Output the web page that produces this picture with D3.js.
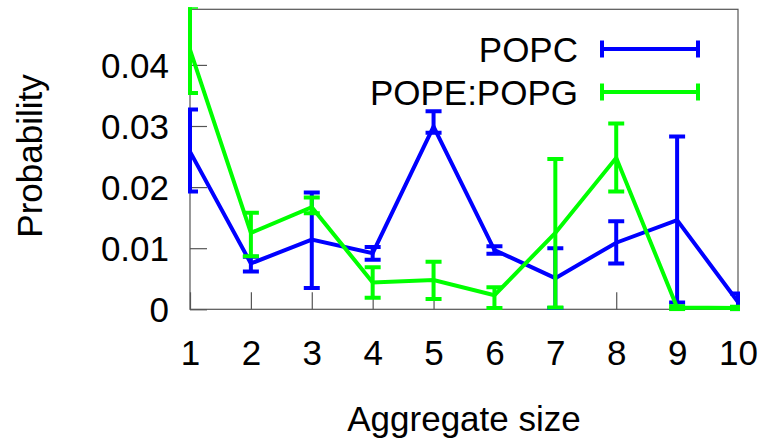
<!DOCTYPE html>
<html>
<head>
<meta charset="utf-8">
<script src="https://cdn.jsdelivr.net/npm/d3@7"></script>
<style>
  body { margin: 0; background: #fff; }
  text { font-family: "Liberation Sans", Arial, sans-serif; fill: #000; }
</style>
</head>
<body>
<div id="chart"></div>
<script>
// aggregate sizes on the x axis
const sizes = [1, 2, 3, 4, 5, 6, 7, 8, 9, 10];

// POPC: mean probability and error range
const popc   = [0.0258, 0.0075, 0.0114, 0.0092, 0.0299, 0.0097, 0.0051, 0.0109, 0.0146, 0.0012];
const popcLo = [0.0193, 0.0062, 0.0035, 0.0081, 0.0289, 0.0091, 0.0002, 0.0075, 0.0011, 0.0000];
const popcHi = [0.0327, 0.0086, 0.0191, 0.0102, 0.0324, 0.0103, 0.0100, 0.0144, 0.0283, 0.0026];

// POPE:POPG
const popg   = [0.0425, 0.0125, 0.0167, 0.0044, 0.0048, 0.0023, 0.0125, 0.0248, 0.0003, 0.0002];
const popgLo = [0.0354, 0.0087, 0.0157, 0.0019, 0.0017, 0.0002, 0.0003, 0.0193, 0.0000, 0.0000];
const popgHi = [0.0495, 0.0158, 0.0183, 0.0069, 0.0078, 0.0036, 0.0246, 0.0304, 0.0005, 0.0004];

const yTicks = [0, 0.01, 0.02, 0.03, 0.04];
const seriesNames = ["POPC", "POPE:POPG"];
const seriesColors = ["#0000ff", "#00ff00"];

let width = 768, height = 447;
let margin = {top: 9.3, right: 30, bottom: 137.7, left: 190};
let pw = width - margin.left - margin.right,
    ph = height - margin.top - margin.bottom;

let svg = d3.select("#chart").append("svg")
    .attr("width", width).attr("height", height);

let x = d3.scaleLinear().domain([1, 10]).range([margin.left, margin.left + pw]);
let y = d3.scaleLinear().domain([0, 0.0491]).range([margin.top + ph, margin.top]);

let axis_color = "#555";
let fsize = "35px";

// frame
svg.append("rect")
    .attr("x", margin.left).attr("y", margin.top)
    .attr("width", pw).attr("height", ph)
    .attr("fill", "none").attr("stroke", axis_color).attr("stroke-width", 1.2);

// y axis ticks + labels
let yAxis = d3.axisLeft(y).tickValues(yTicks).tickSize(-17).tickPadding(21)
    .tickFormat(d => d === 0 ? "0" : d3.format(".2f")(d));
let gy = svg.append("g").attr("transform", `translate(${margin.left},0)`).call(yAxis);
gy.select(".domain").remove();
gy.selectAll("line").attr("stroke", axis_color).attr("stroke-width", 1.2);
gy.selectAll("text").style("font-size", fsize).attr("dy", "0.36em");

// x axis ticks + labels
let xAxis = d3.axisBottom(x).tickValues(sizes).tickSize(-17).tickPadding(31);
let gx = svg.append("g").attr("transform", `translate(0,${margin.top + ph})`).call(xAxis);
gx.select(".domain").remove();
gx.selectAll("line").attr("stroke", axis_color).attr("stroke-width", 1.2);
gx.selectAll("text").style("font-size", fsize);

// axis titles
svg.append("text")
    .attr("x", 464).attr("y", 431)
    .attr("text-anchor", "middle").style("font-size", fsize)
    .text("Aggregate size");
svg.append("text")
    .attr("transform", "translate(42,156) rotate(-90)")
    .attr("text-anchor", "middle").style("font-size", fsize)
    .text("Probability");

// clip the series to the plot area
svg.append("clipPath").attr("id", "plotclip")
  .append("rect")
    .attr("x", margin.left - 2).attr("y", margin.top - 2)
    .attr("width", pw + 4).attr("height", ph + 4);

let plot = svg.append("g").attr("clip-path", "url(#plotclip)");

let series = [
    {vals: popc, lo: popcLo, hi: popcHi},
    {vals: popg, lo: popgLo, hi: popgHi}
];

let capW = 8;
let line = d3.line().x((d, i) => x(sizes[i])).y(d => y(d));

series.forEach((s, k) => {
    let col = seriesColors[k];
    let g = plot.append("g");
    // error bars
    let eb = g.selectAll(".eb").data(sizes).enter().append("g");
    eb.append("line")
        .attr("x1", d => x(d)).attr("x2", d => x(d))
        .attr("y1", (d, i) => y(s.lo[i])).attr("y2", (d, i) => y(s.hi[i]))
        .attr("stroke", col).attr("stroke-width", 4);
    eb.append("line")
        .attr("x1", d => x(d) - capW).attr("x2", d => x(d) + capW)
        .attr("y1", (d, i) => y(s.lo[i])).attr("y2", (d, i) => y(s.lo[i]))
        .attr("stroke", col).attr("stroke-width", 4);
    eb.append("line")
        .attr("x1", d => x(d) - capW).attr("x2", d => x(d) + capW)
        .attr("y1", (d, i) => y(s.hi[i])).attr("y2", (d, i) => y(s.hi[i]))
        .attr("stroke", col).attr("stroke-width", 4);
    // line
    g.append("path")
        .attr("d", line(s.vals))
        .attr("fill", "none").attr("stroke", col).attr("stroke-width", 4)
        .attr("stroke-linejoin", "miter");
});

// legend
let leg = svg.append("g");
seriesNames.forEach((name, k) => {
    let ly = 49 + k * 43;
    let col = seriesColors[k];
    leg.append("text")
        .attr("x", 578).attr("y", ly).attr("dy", "0.36em")
        .attr("text-anchor", "end").style("font-size", fsize)
        .text(name);
    leg.append("line").attr("x1", 602).attr("x2", 698).attr("y1", ly).attr("y2", ly)
        .attr("stroke", col).attr("stroke-width", 4);
    [602, 698].forEach(cx => {
        leg.append("line").attr("x1", cx).attr("x2", cx).attr("y1", ly - 8.5).attr("y2", ly + 8.5)
            .attr("stroke", col).attr("stroke-width", 4);
    });
});
</script>
</body>
</html>
